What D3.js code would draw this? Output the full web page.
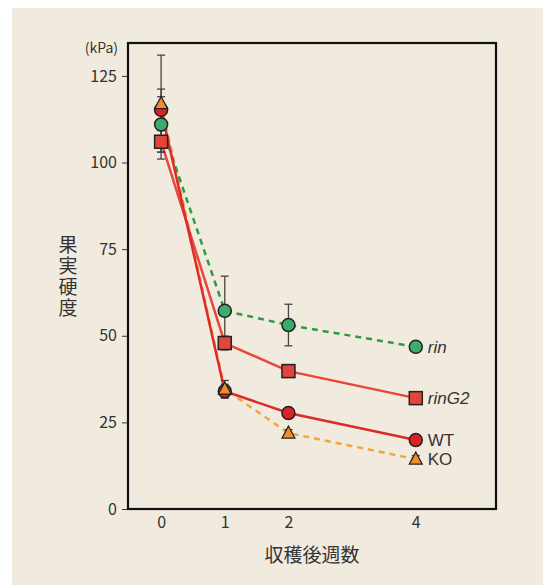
<!DOCTYPE html>
<html>
<head>
<meta charset="utf-8">
<script src="https://cdn.jsdelivr.net/npm/d3@7"></script>
<style>
  body { margin: 0; background: #fff; }
  text { font-family: "Noto Sans CJK JP", "Noto Sans", sans-serif; fill: #333; }
</style>
</head>
<body>
<div id="chart"></div>
<script>
// weeks after harvest
var weeks = [0, 1, 2, 4];
var xTicks = [0, 1, 2, 4];
var yTicks = [0, 25, 50, 75, 100, 125];

// firmness (kPa) and error per line
var rinVals = [111, 57.2, 53.1, 46.8];
var rinErr = [8, 10, 6, 1];
var rinG2Vals = [106, 47.9, 39.8, 32];
var rinG2Err = [5, 2, 1.5, 1.5];
var wtVals = [115.2, 34, 27.7, 19.9];
var wtErr = [6, 2, 1, 1];
var koVals = [117, 34.6, 21.9, 14.4];
var koErr = [14, 2.5, 1, 1];

var series = [
  {name: "KO", vals: koVals, err: koErr, line: "#f2a63c", fill: "#ee8f2b", dash: "6,5", shape: "triangle", italic: false},
  {name: "rin", vals: rinVals, err: rinErr, line: "#2f9a45", fill: "#3aad6c", dash: "6,5", shape: "circle", italic: true},
  {name: "rinG2", vals: rinG2Vals, err: rinG2Err, line: "#e9463c", fill: "#e2463a", dash: null, shape: "square", italic: true},
  {name: "WT", vals: wtVals, err: wtErr, line: "#dd2a2a", fill: "#dc2228", dash: null, shape: "circle", italic: false}
];

var W = 543, H = 585;
var svg = d3.select("#chart").append("svg")
  .attr("width", W).attr("height", H);

svg.append("rect")
  .attr("x", 12).attr("y", 8)
  .attr("width", W - 12).attr("height", H - 8)
  .attr("fill", "#f1ebdf");

var x = d3.scaleLinear().domain([-0.52, 5.26]).range([128, 496]);
var y = d3.scaleLinear().domain([0, 134.5]).range([509, 43]);

// y axis ticks
var yAxis = svg.append("g")
  .attr("transform", "translate(128,0)")
  .call(d3.axisLeft(y).tickValues(yTicks).tickSize(6).tickPadding(5));
yAxis.select(".domain").remove();
yAxis.selectAll("line").attr("stroke", "#333");
yAxis.selectAll("text").style("font-size", "16px").attr("fill", "#333");

// x axis labels (no tick marks)
var xAxis = svg.append("g")
  .attr("transform", "translate(0,509)")
  .call(d3.axisBottom(x).tickValues(xTicks).tickFormat(d3.format("d")).tickSize(0).tickPadding(8));
xAxis.select(".domain").remove();
xAxis.selectAll("text").style("font-size", "16px").attr("fill", "#333");

// frame
svg.append("rect")
  .attr("x", 128).attr("y", 43)
  .attr("width", 368).attr("height", 466)
  .attr("fill", "none")
  .attr("stroke", "#111")
  .attr("stroke-width", 2.2);

svg.append("text")
  .attr("x", 118).attr("y", 53)
  .attr("text-anchor", "end")
  .style("font-size", "14px")
  .text("(kPa)");

// y label, vertical
svg.append("text")
  .attr("x", 68).attr("y", 235)
  .style("writing-mode", "vertical-rl")
  .style("font-size", "19px")
  .style("letter-spacing", "2px")
  .text("果実硬度");

svg.append("text")
  .attr("x", 312).attr("y", 562)
  .attr("text-anchor", "middle")
  .style("font-size", "19px")
  .text("収穫後週数");

// lines
var line = d3.line()
  .x(function(d, i) { return x(weeks[i]); })
  .y(function(d) { return y(d); });

series.forEach(function(s) {
  svg.append("path")
    .datum(s.vals)
    .attr("d", line)
    .attr("fill", "none")
    .attr("stroke", s.line)
    .attr("stroke-width", 2.5)
    .attr("stroke-dasharray", s.dash);
});

// error bars
series.forEach(function(s) {
  var g = svg.append("g").attr("stroke", "#444").attr("stroke-width", 1.3);
  s.vals.forEach(function(v, i) {
    var cx = x(weeks[i]);
    g.append("line").attr("x1", cx).attr("x2", cx)
      .attr("y1", y(v + s.err[i])).attr("y2", y(v - s.err[i]));
    [v + s.err[i], v - s.err[i]].forEach(function(e) {
      g.append("line").attr("x1", cx - 4).attr("x2", cx + 4)
        .attr("y1", y(e)).attr("y2", y(e));
    });
  });
});

// markers
var drawOrder = [series[2], series[1], series[3], series[0]];
drawOrder.forEach(function(s) {
  var g = svg.append("g");
  s.vals.forEach(function(v, i) {
    var cx = x(weeks[i]), cy = y(v);
    if (s.shape === "circle") {
      g.append("circle").attr("cx", cx).attr("cy", cy).attr("r", 6.5)
        .attr("fill", s.fill).attr("stroke", "#222").attr("stroke-width", 1.5);
    } else if (s.shape === "square") {
      g.append("rect").attr("x", cx - 6.5).attr("y", cy - 6.5)
        .attr("width", 13).attr("height", 13)
        .attr("fill", s.fill).attr("stroke", "#222").attr("stroke-width", 1.5);
    } else {
      g.append("path")
        .attr("d", "M" + cx + "," + (cy - 7) + "L" + (cx + 6.5) + "," + (cy + 5) + "L" + (cx - 6.5) + "," + (cy + 5) + "Z")
        .attr("fill", s.fill).attr("stroke", "#222").attr("stroke-width", 1.2);
    }
  });
  svg.append("text")
    .attr("x", x(weeks[3]) + 12)
    .attr("y", y(s.vals[3]) + 6)
    .style("font-size", "17px")
    .style("font-style", s.italic ? "italic" : "normal")
    .style("font-family", "'Liberation Sans', Arial, sans-serif")
    .text(s.name);
});
</script>
</body>
</html>
